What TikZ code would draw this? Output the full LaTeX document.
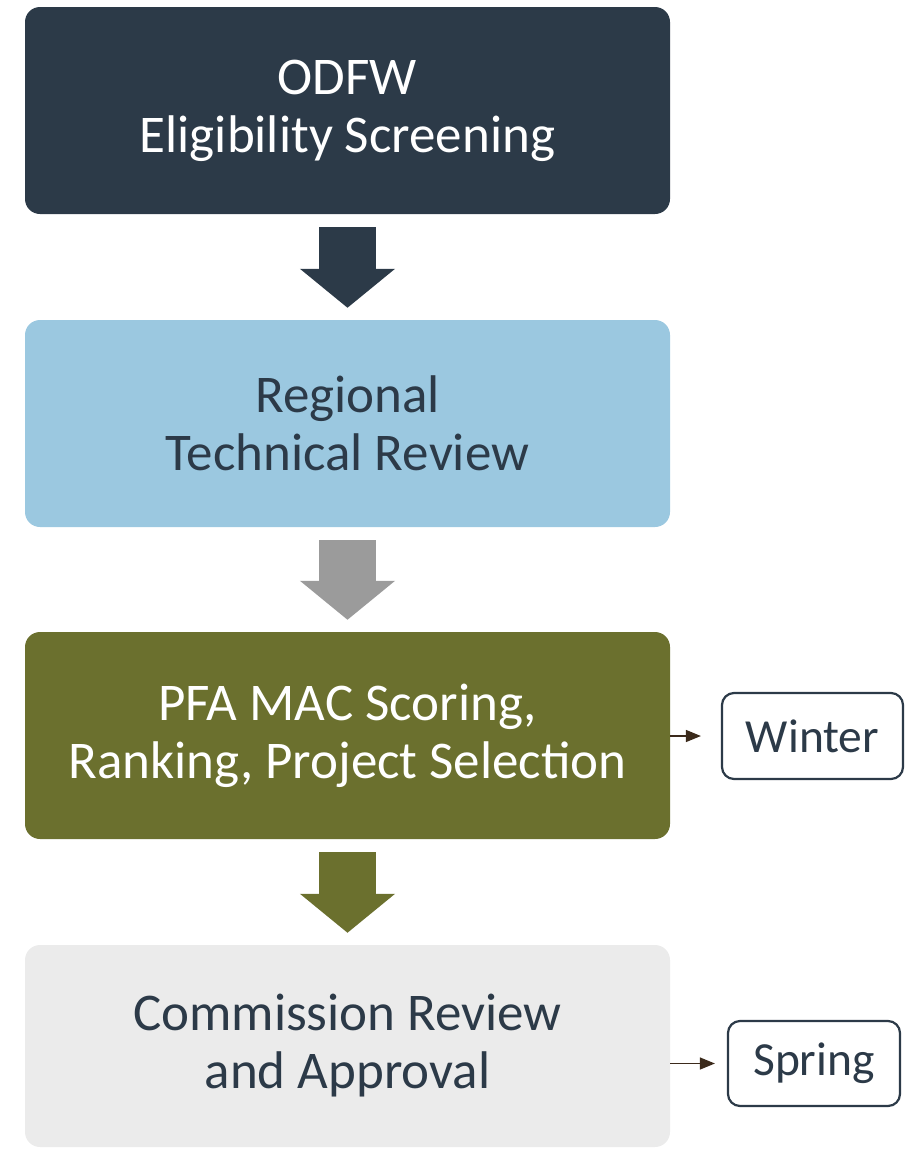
\documentclass[tikz,border=0pt]{standalone}
\usepackage{fontspec}
\setmainfont{Carlito}
\usetikzlibrary{arrows.meta}
\definecolor{navy}{RGB}{44, 58, 72}
\definecolor{sky}{RGB}{155, 200, 224}
\definecolor{olive}{RGB}{107, 112, 46}
\definecolor{ash}{RGB}{155, 155, 155}
\definecolor{pale}{RGB}{235, 235, 235}
\definecolor{umber}{RGB}{59, 42, 27}

\begin{document}
\begin{tikzpicture}[
  stage/.style={rectangle, rounded corners=15pt, minimum width=645pt, minimum height=207pt, inner sep=0pt, align=center, font=\fontsize{53}{58}\selectfont},
  season/.style={rectangle, rounded corners=12pt, draw=navy, line width=2.2pt, fill=white, text=navy, inner sep=0pt, font=\fontsize{47.5}{57}\selectfont},
  blockarrow/.style={line width=57pt, shorten <=13pt, shorten >=12pt, -{Triangle[width=93pt,length=39pt]}},
  tick/.style={color=umber, line width=1.3pt, -{Triangle[width=12pt,length=15pt]}}]
\useasboundingbox (0pt,0pt) rectangle (908pt,-1149pt);
\node (odfw) [stage, fill=navy, text=white] at (347.5pt, -110.5pt) {ODFW\\Eligibility Screening};
\node (regional) [stage, fill=sky, text=navy] at (347.5pt, -423.5pt) {Regional\\Technical Review};
\node (pfa) [stage, fill=olive, text=white] at (347.5pt, -735.5pt) {PFA MAC Scoring,\\Ranking, Project Selection};
\node (commission) [stage, fill=pale, text=navy, minimum height=202pt] at (347.5pt, -1046pt) {Commission Review\\and Approval};
\draw [blockarrow, color=navy] (odfw) to (regional);
\draw [blockarrow, color=ash] (regional) to (pfa);
\draw [blockarrow, color=olive] (pfa) to (commission);
\node (winter) [season, minimum width=181pt, minimum height=86pt] at (812.5pt, -736pt) {Winter};
\node (spring) [season, minimum width=172pt, minimum height=85pt] at (814pt, -1063.5pt) {Spring};
\draw [tick, shorten >=20pt] (pfa.east |- winter.west) to (winter.west);
\draw [tick, shorten >=12pt] (commission.east |- spring.west) to (spring.west);
\end{tikzpicture}
\end{document}
